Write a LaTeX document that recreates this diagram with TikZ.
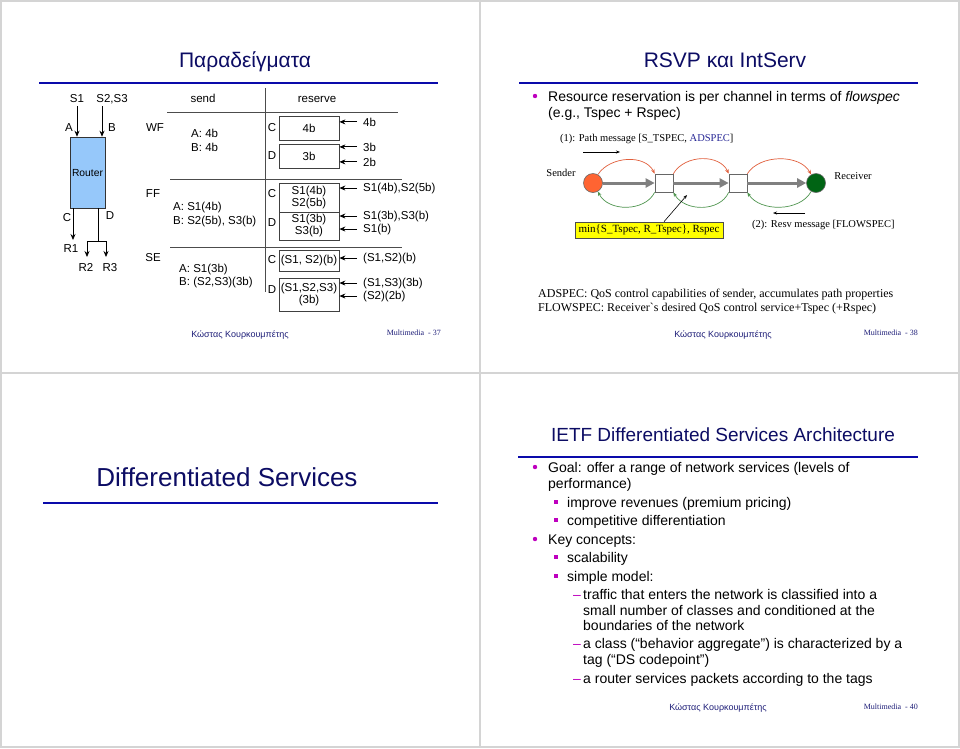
\documentclass[tikz,border=0pt]{standalone}
\usepackage{fontspec}
\setmainfont{Liberation Sans}
\newfontfamily\tms{Liberation Serif}
\usetikzlibrary{arrows.meta}
\definecolor{ttlc}{RGB}{12,12,100}
\definecolor{rulec}{RGB}{10,10,170}
\definecolor{bulc}{RGB}{190,0,190}
\definecolor{footc}{RGB}{30,30,120}
\definecolor{framec}{RGB}{212,212,212}
\definecolor{routerc}{RGB}{150,200,250}
\definecolor{sendc}{RGB}{255,100,50}
\definecolor{recvc}{RGB}{0,100,20}
\definecolor{redc}{RGB}{225,95,60}
\definecolor{grnc}{RGB}{80,150,80}
\definecolor{adspc}{RGB}{40,40,150}
\definecolor{yelc}{RGB}{255,255,0}
\definecolor{grayarr}{RGB}{128,128,128}
\tikzset{
  ttl/.style={font=\fontsize{21}{24}\selectfont, text=ttlc, anchor=base, inner sep=0},
  hrule/.style={draw=rulec, line width=2.4pt},
  btxt/.style={font=\fontsize{14}{16}\selectfont, anchor=base west, inner sep=0},
  bdot/.style={circle, fill=bulc, inner sep=0, minimum size=4.4pt},
  bsq/.style={rectangle, fill=bulc, inner sep=0, minimum size=4.4pt},
  bdash/.style={font=\fontsize{14}{16}\selectfont, text=bulc, anchor=base west, inner sep=0},
  dg/.style={font=\fontsize{11.5}{12}\selectfont, anchor=base, inner sep=0},
  dgw/.style={font=\fontsize{11.5}{12}\selectfont, anchor=base west, inner sep=0},
  rbox/.style={draw=black!75, line width=0.8pt, minimum width=60pt, inner sep=0, align=center, font=\fontsize{11.5}{12}\selectfont},
  sarr/.style={-{Stealth[length=6pt,width=5pt]}, line width=0.8pt},
  tline/.style={draw=black!70, line width=0.8pt},
  foota/.style={font=\fontsize{9}{10}\selectfont, text=footc, anchor=base, inner sep=0},
  footb/.style={font=\tms\fontsize{8}{10}\selectfont, text=footc, anchor=base east, inner sep=0},
  sm/.style={font=\tms\fontsize{10.5}{12}\selectfont, inner sep=0},
  garr/.style={draw=grayarr, line width=3pt, -{Triangle[length=9pt,width=9pt]}},
  rarr/.style={draw=redc, line width=0.7pt, -{Stealth[length=4.5pt,width=3.5pt]}},
  gnarr/.style={draw=grnc, line width=0.7pt, -{Stealth[length=4.5pt,width=3.5pt]}},
  thinarr/.style={line width=0.6pt, -{Stealth[length=4pt,width=3pt]}},
  netbox/.style={draw=black!60, fill=white, minimum size=18pt, inner sep=0, line width=0.7pt},
}
\begin{document}
\begin{tikzpicture}[x=1pt,y=-1pt]
\useasboundingbox (0,0) rectangle (960,748);
\fill[white] (0,0) rectangle (960,748);
% frame
\draw[draw=framec, line width=2pt] (1,1) rectangle (959,747);
\draw[draw=framec, line width=2pt] (480,0) -- (480,748);
\draw[draw=framec, line width=2pt] (0,373) -- (960,373);

% titles
\node[ttl] (t1) at (245,67) {Παραδείγματα};
\draw[hrule] (39,83) -- (438,83);
\node[ttl] (t2) at (725,67) {RSVP και IntServ};
\draw[hrule] (519,83) -- (918,83);
\node[ttl, font=\fontsize{26}{30}\selectfont] (t3) at (227,486) {Differentiated Services};
\draw[hrule] (43,503) -- (438,503);
\node[ttl, font=\fontsize{19}{24}\selectfont] (t4) at (723,441) {IETF Differentiated Services Architecture};
\draw[hrule] (518,457) -- (918,457);

% ===== slide 37 =====
\node[dg] (s1) at (77,102) {S1};
\node[dg] (s23) at (112,102) {S2,S3};
\node[draw=black!80, fill=routerc, minimum width=35pt, minimum height=71pt, inner sep=0, line width=0.6pt, font=\fontsize{10.3}{12}\selectfont] (rt) at (87.5,172.5) {Router};
\coordinate (pA) at (77,106);
\coordinate (pB) at (102,106);
\draw[sarr] (pA) -- (pA |- rt.north);
\draw[sarr] (pB) -- (pB |- rt.north);
\node[dg] (la) at (69,131) {A};
\node[dg] (lb) at (112,131) {B};
\node[dg] (lc) at (67,221) {C};
\node[dg] (ld) at (110,219) {D};
\coordinate (cC) at (73,208);
\coordinate (cR1) at (73,240);
\draw[sarr] (cC) -- (cR1);
\node[dg] (r1) at (71,252) {R1};
\coordinate (cD) at (98,208);
\coordinate (cDj) at (98,241);
\coordinate (cR2a) at (87,241);
\coordinate (cR3a) at (106,241);
\coordinate (cR2) at (87,257);
\coordinate (cR3) at (106,257);
\draw[line width=0.8pt] (cD) -- (cDj);
\draw[line width=0.8pt] (cR2a) -- (cR3a);
\draw[sarr] (cR2a) -- (cR2);
\draw[sarr] (cR3a) -- (cR3);
\node[dg] (r2) at (86,271) {R2};
\node[dg] (r3) at (110,271) {R3};

\node[dg] (wf) at (155,131) {WF};
\node[dg] (ff) at (153,197) {FF};
\node[dg] (se) at (153,261) {SE};

\draw[tline] (265,88) -- (265,292);
\draw[tline] (167,112) -- (398,112);
\draw[tline] (170,179) -- (402,179);
\draw[tline] (170,247) -- (402,247);
\node[dg] (hsend) at (203,102) {send};
\node[dg] (hres) at (317,102) {reserve};

\node[dgw] (wa) at (191,137) {A: 4b};
\node[dgw] (wb) at (191,151) {B: 4b};
\node[dgw] (fa) at (173,210) {A: S1(4b)};
\node[dgw] (fb) at (173,224) {B: S2(5b), S3(b)};
\node[dgw] (sa) at (179,272) {A: S1(3b)};
\node[dgw] (sb) at (179,285) {B: (S2,S3)(3b)};

\node[rbox, minimum height=24pt] (wc) at (309,128) {4b};
\node[rbox, minimum height=24pt] (wd) at (309,156) {3b};
\node[rbox, minimum height=29pt] (fc) at (309,197.5) {S1(4b)\\S2(5b)};
\node[rbox, minimum height=28pt] (fd) at (309,226) {S1(3b)\\S3(b)};
\node[rbox, minimum height=21pt] (sc) at (309,261) {(S1, S2)(b)};
\node[rbox, minimum height=33pt] (sd) at (309,294.5) {(S1,S2,S3)\\(3b)};

\node[dg] (lwc) at (272,131) {C};
\node[dg] (lwd) at (272,159) {D};
\node[dg] (lfc) at (272,197) {C};
\node[dg] (lfd) at (272,226) {D};
\node[dg] (lsc) at (272,263) {C};
\node[dg] (lsd) at (272,293) {D};

\node[dgw] (q1) at (363,126) {4b};
\node[dgw] (q2) at (363,151) {3b};
\node[dgw] (q3) at (363,166) {2b};
\node[dgw] (q4) at (363,191) {S1(4b),S2(5b)};
\node[dgw] (q5) at (363,219) {S1(3b),S3(b)};
\node[dgw] (q6) at (363,232) {S1(b)};
\node[dgw] (q7) at (363,261) {(S1,S2)(b)};
\node[dgw] (q8) at (363,286) {(S1,S3)(3b)};
\node[dgw] (q9) at (363,299) {(S2)(2b)};
\draw[sarr] ([xshift=-6pt]q1.west) -- (q1.west -| wc.east);
\draw[sarr] ([xshift=-6pt]q2.west) -- (q2.west -| wd.east);
\draw[sarr] ([xshift=-6pt]q3.west) -- (q3.west -| wd.east);
\draw[sarr] ([xshift=-6pt]q4.west) -- (q4.west -| fc.east);
\draw[sarr] ([xshift=-6pt]q5.west) -- (q5.west -| fd.east);
\draw[sarr] ([xshift=-6pt]q6.west) -- (q6.west -| fd.east);
\draw[sarr] ([xshift=-6pt]q7.west) -- (q7.west -| sc.east);
\draw[sarr] ([xshift=-6pt]q8.west) -- (q8.west -| sd.east);
\draw[sarr] ([xshift=-6pt]q9.west) -- (q9.west -| sd.east);

\node[foota] (f1a) at (240,337) {Κώστας Κουρκουμπέτης};
\node[footb] (f1b) at (441,335) {Multimedia\ \ - 37};

% ===== slide 38 =====
\node[bdot] (d1) at (535,96) {};
\node[btxt] (l1) at (548,101) {Resource reservation is per channel in terms of \textit{flowspec}};
\node[btxt] (l2) at (548,117) {(e.g., Tspec + Rspec)};

\node[sm, anchor=base west] (pm) at (560,141) {(1): Path message [S\_TSPEC, \textcolor{adspc}{ADSPEC}]};
\coordinate (pa1) at (583,152);
\coordinate (pa2) at (620,152);
\draw[thinarr] (pa1) -- (pa2);
\node[sm] (sendt) at (561,173) {Sender};
\node[circle, fill=sendc, draw=black!60, minimum size=19pt, inner sep=0, line width=0.6pt] (snd) at (593,183) {};
\node[netbox] (b1) at (664,183) {};
\node[netbox] (b2) at (738,183) {};
\node[circle, fill=recvc, draw=black!60, minimum size=19pt, inner sep=0, line width=0.6pt] (rcv) at (816,183) {};
\node[sm] (rcvt) at (853,176) {Receiver};
\draw[garr] (snd) -- (b1);
\draw[garr] (b1) -- (b2);
\draw[garr] (b2) -- (rcv);
\draw[rarr] (snd.60) .. controls (610,156) and (645,154) .. (b1.north west);
\draw[rarr] (b1.north east) .. controls (685,154) and (720,154) .. (b2.north west);
\draw[rarr] (b2.north east) .. controls (760,154) and (800,154) .. (rcv.120);
\draw[gnarr] (b1.south west) .. controls (645,212) and (608,212) .. (snd.-60);
\draw[gnarr] (b2.south west) .. controls (720,212) and (685,212) .. (b1.south east);
\draw[gnarr] (rcv.-120) .. controls (800,212) and (760,212) .. (b2.south east);

\node[draw=black!70, fill=yelc, minimum width=148pt, minimum height=16pt, inner sep=0, line width=0.6pt, font=\tms\fontsize{11}{12}\selectfont] (yb) at (649,230) {min\{S\_Tspec, R\_Tspec\}, Rspec};
\coordinate (lp) at (687,195);
\draw[thinarr] ([xshift=15pt]yb.north) -- (lp);

\node[sm, anchor=base west] (rm) at (752,227) {(2): Resv message [FLOWSPEC]};
\coordinate (ra1) at (805,213);
\coordinate (ra2) at (773,213);
\draw[thinarr] (ra1) -- (ra2);

\node[font=\tms\fontsize{12}{14}\selectfont, anchor=base west, inner sep=0] (ad) at (538,297) {ADSPEC: QoS control capabilities of sender, accumulates path properties};
\node[font=\tms\fontsize{12}{14}\selectfont, anchor=base west, inner sep=0] (fl) at (538,311) {FLOWSPEC: Receiver`s desired QoS control service+Tspec (+Rspec)};

\node[foota] (f2a) at (723,337) {Κώστας Κουρκουμπέτης};
\node[footb] (f2b) at (918,335) {Multimedia\ \ - 38};

% ===== slide 40 =====
\node[bdot] (e1) at (535,467) {};
\node[btxt] (g1) at (548,472) {Goal: offer a range of network services (levels of};
\node[btxt] (g2) at (548,488) {performance)};
\node[bsq] (e2) at (556,502) {};
\node[btxt] (g3) at (567,507) {improve revenues (premium pricing)};
\node[bsq] (e3) at (556,520) {};
\node[btxt] (g4) at (567,525) {competitive differentiation};
\node[bdot] (e4) at (535,539) {};
\node[btxt] (g5) at (548,544) {Key concepts:};
\node[bsq] (e5) at (556,557) {};
\node[btxt] (g6) at (567,562) {scalability};
\node[bsq] (e6) at (556,576) {};
\node[btxt] (g7) at (567,581) {simple model:};
\node[bdash] (e7) at (573,599) {–};
\node[btxt] (g8) at (583,599) {traffic that enters the network is classified into a};
\node[btxt] (g9) at (583,615) {small number of classes and conditioned at the};
\node[btxt] (g10) at (583,630) {boundaries of the network};
\node[bdash] (e8) at (573,648) {–};
\node[btxt] (g11) at (583,648) {a class (“behavior aggregate”) is characterized by a};
\node[btxt] (g12) at (583,664) {tag (“DS codepoint”)};
\node[bdash] (e9) at (573,683) {–};
\node[btxt] (g13) at (583,683) {a router services packets according to the tags};

\node[foota] (f3a) at (718,710) {Κώστας Κουρκουμπέτης};
\node[footb] (f3b) at (918,709) {Multimedia\ \ - 40};
\end{tikzpicture}
\end{document}
